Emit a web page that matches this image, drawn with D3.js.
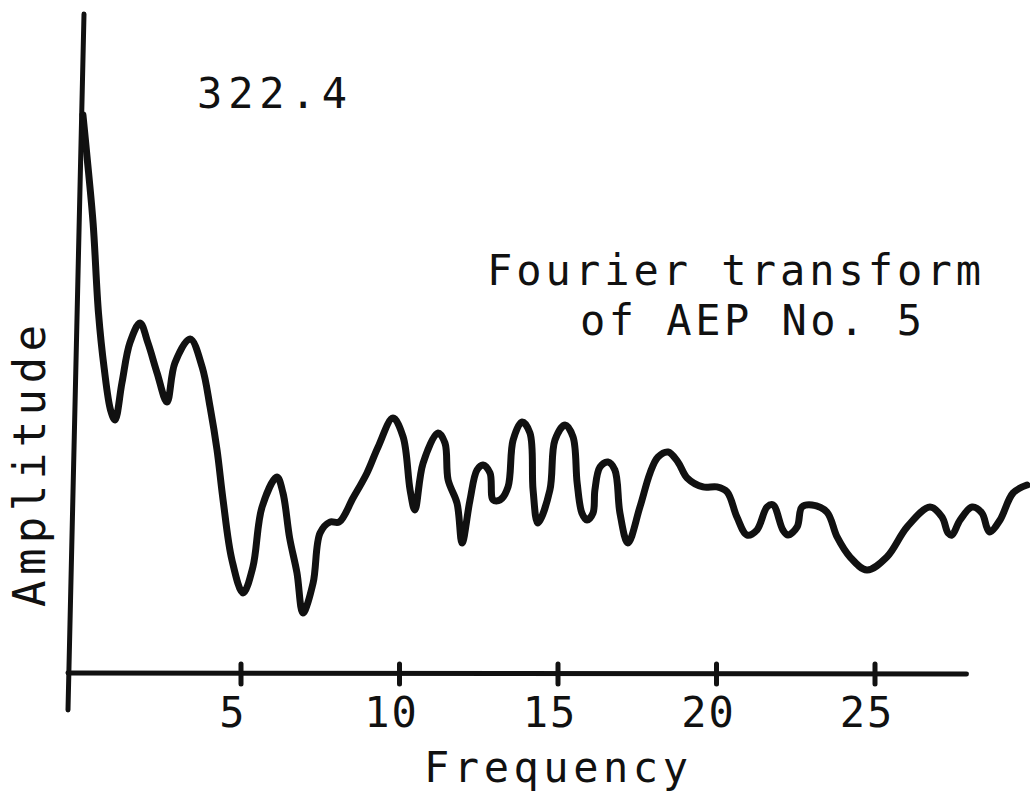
<!DOCTYPE html>
<html>
<head>
<meta charset="utf-8">
<script src="https://cdn.jsdelivr.net/npm/d3@7"></script>
<style>
  html, body { margin: 0; padding: 0; background: #fff; }
  svg { display: block; }
  text { font-family: "DejaVu Sans Mono", monospace; fill: #111; }
</style>
</head>
<body>
<svg id="chart" width="1030" height="794"></svg>
<script>
// Frequency (x) and amplitude (y)
const freq = [
  0.03, 0.16, 0.35, 0.52, 0.70, 0.90, 1.04, 1.26, 1.51, 1.83,
  2.08, 2.37, 2.68, 2.93, 3.41, 3.79, 4.04, 4.26, 4.45, 4.73,
  5.08, 5.39, 5.68, 6.15, 6.34, 6.55, 6.78, 6.97, 7.29, 7.51,
  7.82, 8.11, 8.55, 8.99, 9.34, 9.81, 10.13, 10.35, 10.50, 10.76,
  11.23, 11.45, 11.55, 11.83, 11.99, 12.24, 12.46, 12.65, 12.87, 12.97,
  13.19, 13.44, 13.60, 13.88, 14.13, 14.23, 14.38, 14.76, 14.92, 15.24,
  15.49, 15.62, 15.77, 15.93, 16.12, 16.18, 16.34, 16.59, 16.81, 16.97,
  17.22, 17.60, 17.92, 18.17, 18.49, 18.80, 19.09, 19.59, 20.03, 20.35,
  20.66, 20.98, 21.29, 21.61, 21.80, 22.11, 22.27, 22.56, 22.71, 23.03,
  23.50, 23.82, 24.23, 24.76, 25.39, 26.03, 26.75, 27.13, 27.32, 27.44,
  27.70, 28.08, 28.39, 28.55, 28.64, 28.96, 29.37, 29.81
];
const amplitude = [
  322.4, 298.1, 260.0, 208.0, 176.0, 152.0, 146.2, 167.6, 190.7, 202.2,
  190.7, 173.3, 156.6, 179.1, 193.0, 176.8, 153.7, 128.8, 100.0, 65.3,
  46.2, 61.2, 95.9, 113.2, 104.0, 78.0, 58.0, 34.7, 52.0, 80.9,
  87.2, 87.2, 101.1, 115.6, 130.6, 147.3, 136.4, 105.7, 94.2, 121.3,
  138.7, 132.9, 111.5, 98.2, 75.1, 100.0, 117.3, 120.2, 115.6, 100.0,
  100.0, 107.5, 134.6, 145.0, 138.7, 105.7, 86.7, 105.7, 134.6, 143.3,
  136.4, 109.8, 92.4, 88.4, 92.4, 105.7, 119.0, 121.9, 117.3, 92.4,
  75.1, 95.9, 115.6, 124.8, 127.7, 121.9, 112.7, 107.5, 107.5, 104.6,
  90.1, 79.7, 82.6, 95.9, 97.1, 82.6, 79.7, 84.4, 95.9, 97.1,
  93.0, 78.6, 67.0, 59.5, 67.0, 84.4, 95.9, 90.1, 80.9, 79.7,
  88.4, 95.9, 92.4, 83.8, 81.5, 88.4, 104.0, 108.6
];
const xTicks = [5, 10, 15, 20, 25];
const xAxisEnd = 27.9;
const peakLabel = "322.4";
const titleLines = ["Fourier transform", "of AEP No. 5"];
const xTitle = "Frequency";
const yTitle = "Amplitude";

const svg = d3.select('#chart');
const ink = '#111';

const x = d3.scaleLinear().domain([0, 30]).range([82, 1033]);
const y = d3.scaleLinear().domain([0, 322.4]).range([673, 115]);
const baseY = y(0);

// ─── Axes ────────────────────────────────────────────────────────────────────

// hand-drawn y axis, leaning a little to the right at the top
svg.append('line')
  .attr('x1', x(0) + 2).attr('y1', 14)
  .attr('x2', x(0) - 14).attr('y2', baseY + 37)
  .attr('stroke', ink).attr('stroke-width', 5)
  .attr('stroke-linecap', 'round');

// x axis baseline
svg.append('line')
  .attr('x1', x(0) - 14).attr('y1', baseY)
  .attr('x2', x(xAxisEnd)).attr('y2', baseY + 1)
  .attr('stroke', ink).attr('stroke-width', 5)
  .attr('stroke-linecap', 'round');

const gx = svg.append('g').attr('transform', `translate(0,${baseY})`);
gx.call(d3.axisBottom(x).tickValues(xTicks).tickSize(0).tickPadding(0))
  .call(sel => {
    sel.select('.domain').remove();
    sel.selectAll('.tick line')
      .attr('y1', -9).attr('y2', 11)
      .attr('stroke', ink).attr('stroke-width', 5)
      .attr('stroke-linecap', 'round');
    sel.selectAll('.tick text')
      .attr('y', 54).attr('dy', null).attr('dx', -8)
      .attr('fill', ink)
      .style('font-family', '"DejaVu Sans Mono", monospace')
      .style('font-size', '42px')
      .style('letter-spacing', '2px');
  });

// ─── Curve ───────────────────────────────────────────────────────────────────

const pts = freq.map((f, i) => [f, amplitude[i]]);
const line = d3.line()
  .x(d => x(d[0]))
  .y(d => y(d[1]))
  .curve(d3.curveCatmullRom.alpha(0.5));

svg.append('path')
  .datum(pts)
  .attr('d', line)
  .attr('fill', 'none')
  .attr('stroke', ink)
  .attr('stroke-width', 7)
  .attr('stroke-linejoin', 'round')
  .attr('stroke-linecap', 'round');

// ─── Text ────────────────────────────────────────────────────────────────────

const fs = '42px';

svg.append('text')
  .attr('x', 197).attr('y', 108)
  .attr('textLength', 150).attr('lengthAdjust', 'spacing')
  .style('font-size', fs)
  .text(peakLabel);

svg.append('text')
  .attr('x', 487).attr('y', 285)
  .attr('textLength', 494).attr('lengthAdjust', 'spacing')
  .style('font-size', fs)
  .text(titleLines[0]);

svg.append('text')
  .attr('x', 580).attr('y', 335)
  .attr('textLength', 342).attr('lengthAdjust', 'spacing')
  .style('font-size', fs)
  .text(titleLines[1]);

svg.append('text')
  .attr('x', 424).attr('y', 782)
  .attr('textLength', 264).attr('lengthAdjust', 'spacing')
  .style('font-size', fs)
  .text(xTitle);

svg.append('text')
  .attr('transform', 'translate(45,607) rotate(-90)')
  .attr('textLength', 282).attr('lengthAdjust', 'spacing')
  .style('font-size', '44px')
  .text(yTitle);
</script>
</body>
</html>
